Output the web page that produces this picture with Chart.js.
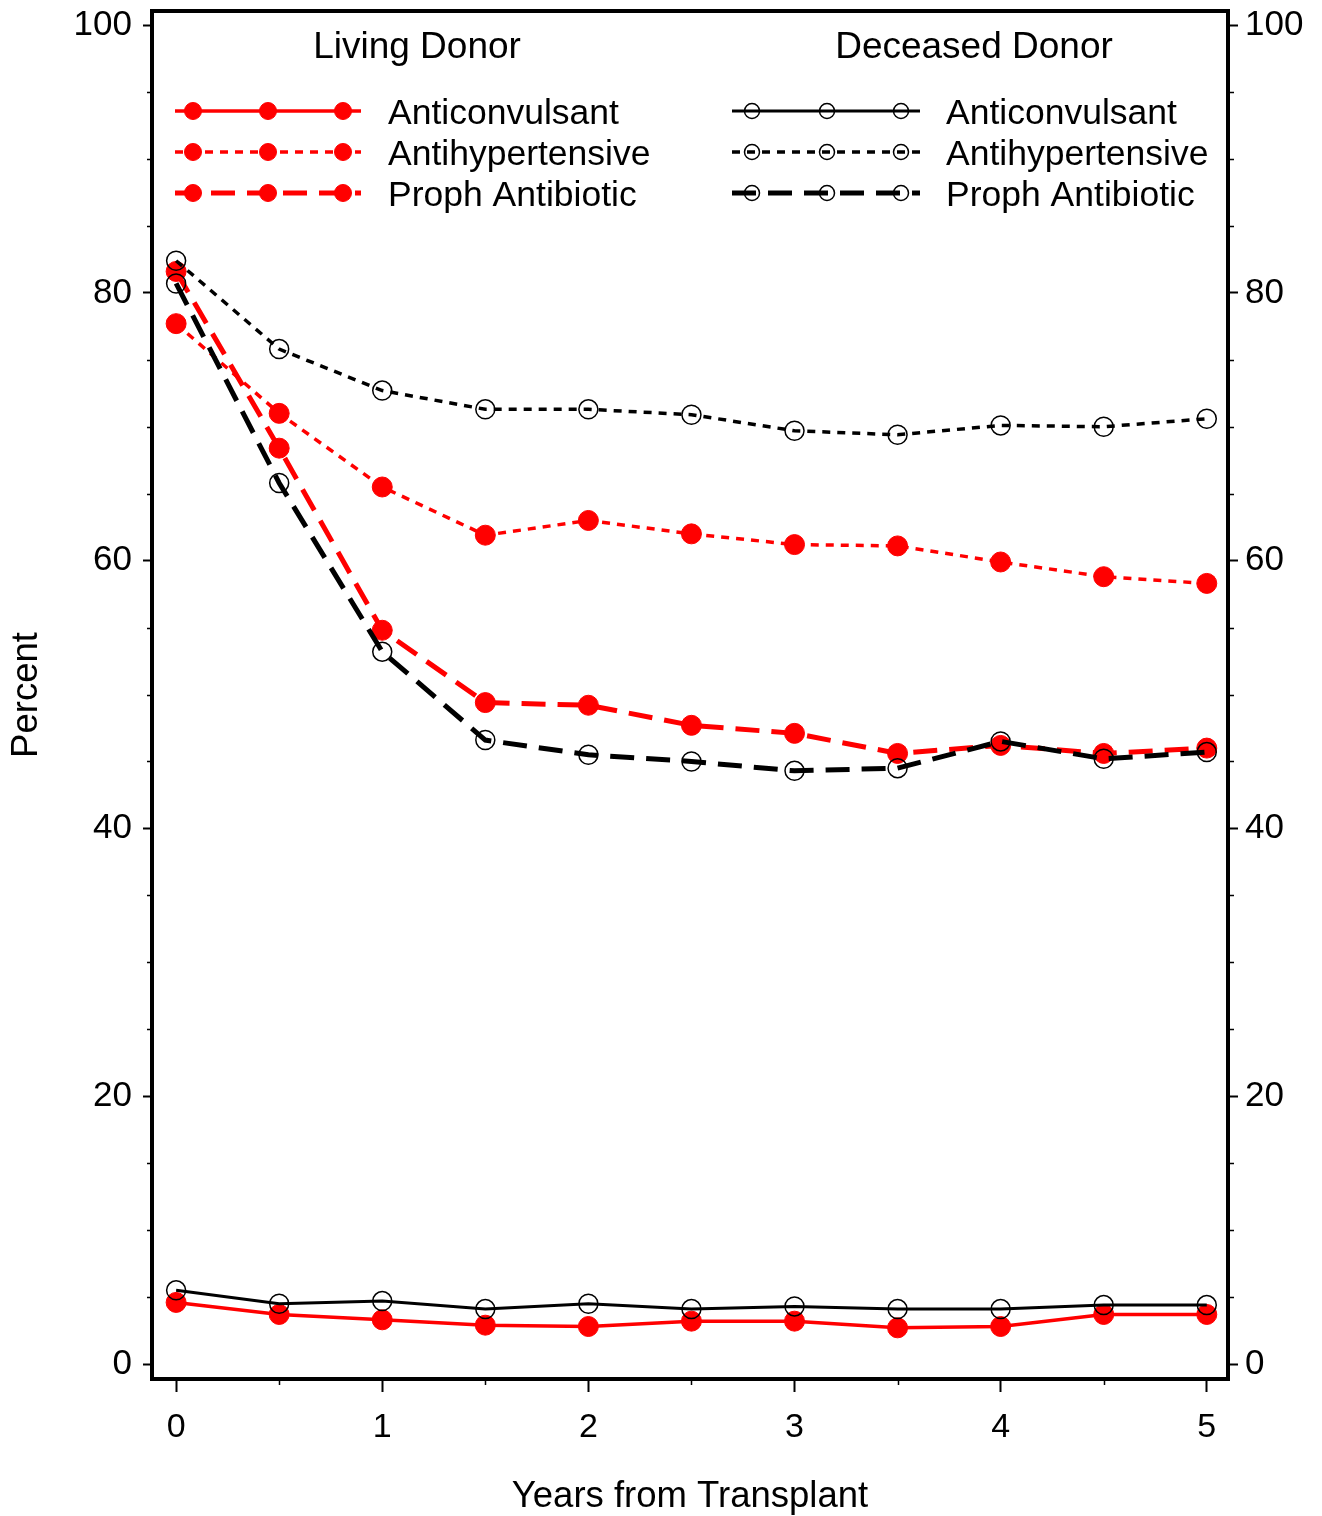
<!DOCTYPE html>
<html>
<head>
<meta charset="utf-8">
<script src="https://cdn.jsdelivr.net/npm/chart.js@4.4.1/dist/chart.umd.min.js"></script>
<style>
  html, body { margin: 0; padding: 0; background: #fff; }
  #wrap { width: 1322px; height: 1516px; }
</style>
</head>
<body>
<div id="wrap"><canvas id="c" width="1322" height="1516"></canvas></div>
<script>
// ---- data ----
const years = [0, 0.5, 1, 1.5, 2, 2.5, 3, 3.5, 4, 4.5, 5];
const livingAnticonvulsant   = [4.6, 3.7, 3.3, 2.9, 2.8, 3.2, 3.2, 2.7, 2.8, 3.7, 3.7];
const livingAntihypertensive = [77.7, 71.0, 65.5, 61.9, 63.0, 62.0, 61.2, 61.1, 59.9, 58.8, 58.3];
const livingProphAntibiotic  = [81.6, 68.4, 54.8, 49.4, 49.2, 47.7, 47.1, 45.6, 46.2, 45.6, 46.0];
const deceasedAnticonvulsant   = [5.5, 4.5, 4.7, 4.1, 4.5, 4.1, 4.3, 4.1, 4.1, 4.4, 4.4];
const deceasedAntihypertensive = [82.4, 75.8, 72.7, 71.3, 71.3, 70.9, 69.7, 69.4, 70.1, 70.0, 70.6];
const deceasedProphAntibiotic  = [80.7, 65.8, 53.2, 46.6, 45.5, 45.0, 44.3, 44.5, 46.5, 45.2, 45.7];
const seriesNames = ['Anticonvulsant', 'Antihypertensive', 'Proph Antibiotic'];
const groupTitles = ['Living Donor', 'Deceased Donor'];
const xTicks = [0, 1, 2, 3, 4, 5];
const xMinorTicks = [0.5, 1.5, 2.5, 3.5, 4.5];
const yTicks = [0, 20, 40, 60, 80, 100];
const yMinorTicks = [5, 10, 15, 25, 30, 35, 45, 50, 55, 65, 70, 75, 85, 90, 95];
const xTitle = 'Years from Transplant';
const yTitle = 'Percent';

const FONT = "'Liberation Sans', Arial, Helvetica, sans-serif";
const pts = arr => years.map((x, i) => ({ x: x, y: arr[i] }));

const dashStyles = [[], [8, 7], [24, 12]];
const widthsLiving = [3.5, 3.5, 5];
const widthsDeceased = [3, 3.5, 5];

function livingDs(label, arr, k) {
  return {
    label: label, data: pts(arr), group: 0, row: k,
    borderColor: '#ff0000', backgroundColor: '#ff0000',
    borderWidth: widthsLiving[k], borderDash: dashStyles[k],
    pointRadius: 10, pointBorderWidth: 1, pointBackgroundColor: '#ff0000', pointBorderColor: '#ff0000',
    tension: 0, order: 1
  };
}
function deceasedDs(label, arr, k) {
  return {
    label: label, data: pts(arr), group: 1, row: k,
    borderColor: '#000000', backgroundColor: 'rgba(0,0,0,0)',
    borderWidth: widthsDeceased[k], borderDash: dashStyles[k],
    pointRadius: 9.5, pointBorderWidth: 1.5, pointBackgroundColor: 'rgba(0,0,0,0)', pointBorderColor: '#000000',
    tension: 0, order: 0
  };
}

const datasets = [
  deceasedDs(seriesNames[0], deceasedAnticonvulsant, 0),
  deceasedDs(seriesNames[1], deceasedAntihypertensive, 1),
  deceasedDs(seriesNames[2], deceasedProphAntibiotic, 2),
  livingDs(seriesNames[0], livingAnticonvulsant, 0),
  livingDs(seriesNames[1], livingAntihypertensive, 1),
  livingDs(seriesNames[2], livingProphAntibiotic, 2)
];

const legendLayout = [
  { titleX: 417, lineX0: 175, lineX1: 361, marks: [193, 268, 343], textX: 388, r: 8.5 },
  { titleX: 974, lineX0: 732, lineX1: 920, marks: [752, 827, 901], textX: 946, r: 7.5 }
];
const legendRowsY = [111, 152, 193];

const framePlugin = {
  id: 'frame',
  afterDatasetsDraw(chart) {
    const ctx = chart.ctx;
    ctx.save();
    ctx.fillStyle = '#000';
    ctx.textBaseline = 'middle';
    ctx.font = '37px ' + FONT;
    groupTitles.forEach((t, g) => {
      ctx.textAlign = 'center';
      ctx.fillText(t, legendLayout[g].titleX, 48);
    });
    ctx.font = '35.5px ' + FONT;
    chart.data.datasets.forEach(ds => {
      const L = legendLayout[ds.group];
      const y = legendRowsY[ds.row];
      ctx.save();
      ctx.strokeStyle = ds.borderColor;
      ctx.lineWidth = ds.borderWidth;
      ctx.setLineDash(ds.borderDash);
      ctx.beginPath();
      ctx.moveTo(L.lineX0, y); ctx.lineTo(L.lineX1, y);
      ctx.stroke();
      ctx.setLineDash([]);
      L.marks.forEach(mx => {
        ctx.beginPath();
        ctx.arc(mx, y, L.r, 0, Math.PI * 2);
        ctx.fillStyle = ds.pointBackgroundColor;
        ctx.fill();
        ctx.lineWidth = ds.pointBorderWidth;
        ctx.strokeStyle = ds.pointBorderColor;
        ctx.stroke();
      });
      ctx.restore();
      ctx.textAlign = 'left';
      ctx.fillStyle = '#000';
      ctx.fillText(ds.label, L.textX, y + 3);
    });
    ctx.restore();
  },
  afterDraw(chart) {
    const { ctx, chartArea: a, scales } = chart;
    ctx.save();
    ctx.strokeStyle = '#000';
    ctx.lineWidth = 4;
    ctx.strokeRect(a.left, a.top, a.right - a.left, a.bottom - a.top);
    ctx.lineWidth = 1.5;
    ctx.beginPath();
    yMinorTicks.forEach(v => {
      const p = Math.round(scales.y.getPixelForValue(v)) + 0.5;
      ctx.moveTo(a.left - 5, p); ctx.lineTo(a.left, p);
      ctx.moveTo(a.right, p); ctx.lineTo(a.right + 6, p);
    });
    xMinorTicks.forEach(v => {
      const p = Math.round(scales.x.getPixelForValue(v)) + 0.5;
      ctx.moveTo(p, a.bottom); ctx.lineTo(p, a.bottom + 6);
    });
    ctx.stroke();
    ctx.restore();
  }
};

const tickFontY = { family: FONT, size: 35 };
const tickFontX = { family: FONT, size: 34 };
const titleFont = { family: FONT, size: 36.5 };

function fixV(w) {
  return s => { s.width = w; s.paddingTop = 0; s.paddingBottom = 0; s.paddingLeft = 0; s.paddingRight = 0; };
}

new Chart(document.getElementById('c'), {
  type: 'line',
  data: { datasets: datasets },
  plugins: [framePlugin],
  options: {
    responsive: false,
    animation: false,
    devicePixelRatio: 1,
    layout: { padding: { top: 11, left: 0, right: 0, bottom: 0 } },
    plugins: { legend: { display: false }, tooltip: { enabled: false }, title: { display: false } },
    scales: {
      x: {
        type: 'linear', position: 'bottom', min: -0.117, max: 5.103,
        afterBuildTicks: s => { s.ticks = xTicks.map(v => ({ value: v })); },
        afterFit: s => { s.height = 137; s.paddingLeft = 0; s.paddingRight = 0; s.paddingTop = 0; s.paddingBottom = 0; },
        ticks: { font: tickFontX, color: '#000', padding: 15, maxRotation: 0, autoSkip: false, callback: v => String(v) },
        grid: { display: true, drawOnChartArea: false, drawTicks: true, tickLength: 13, tickWidth: 2, color: '#000' },
        border: { display: false },
        title: { display: true, text: xTitle, font: titleFont, color: '#000', padding: { top: 0, bottom: -3 } }
      },
      y: {
        type: 'linear', position: 'left', min: -1.12, max: 101.05,
        afterBuildTicks: s => { s.ticks = yTicks.map(v => ({ value: v })); },
        afterFit: fixV(152),
        ticks: { font: tickFontY, color: '#000', padding: 11, autoSkip: false, callback: v => String(v) },
        grid: { display: true, drawOnChartArea: false, drawTicks: true, tickLength: 9, tickWidth: 2, color: '#000' },
        border: { display: false },
        title: { display: true, text: yTitle, font: titleFont, color: '#000', padding: { top: 5, bottom: 0 } }
      },
      y2: {
        type: 'linear', position: 'right', min: -1.12, max: 101.05,
        afterBuildTicks: s => { s.ticks = yTicks.map(v => ({ value: v })); },
        afterFit: fixV(94),
        ticks: { font: tickFontY, color: '#000', padding: 7, autoSkip: false, callback: v => String(v) },
        grid: { display: true, drawOnChartArea: false, drawTicks: true, tickLength: 10, tickWidth: 2, color: '#000' },
        border: { display: false }
      }
    }
  }
});
</script>
</body>
</html>
